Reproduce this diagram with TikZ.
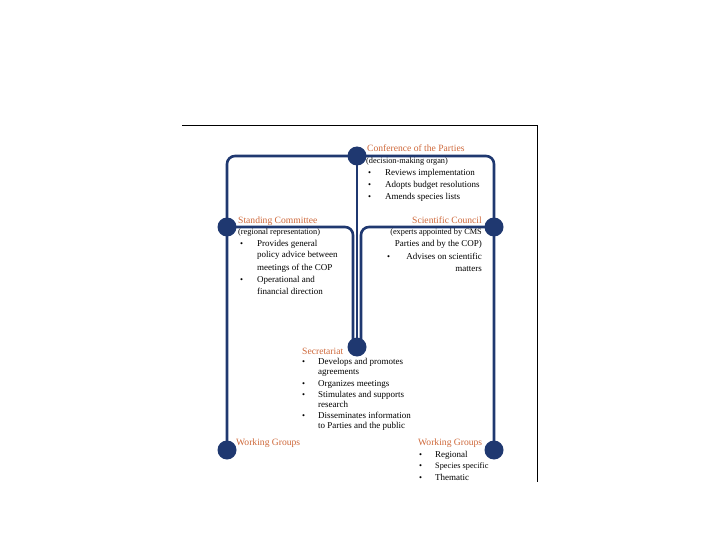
\documentclass[tikz,border=0pt]{standalone}
\usepackage{fontspec}
\setmainfont{Liberation Serif}
\usetikzlibrary{backgrounds}
\definecolor{navy}{RGB}{31,56,112}
\definecolor{orng}{RGB}{206,104,58}
\tikzset{
  hub/.style={circle,fill=navy,minimum size=19pt,inner sep=0pt},
  link/.style={draw=navy,line width=2.6pt,rounded corners=8pt},
  ttl/.style={text=orng,font=\fontsize{9.6}{11}\selectfont,inner sep=0pt},
  sml/.style={font=\fontsize{8.3}{9}\selectfont,inner sep=0pt},
  txt/.style={font=\fontsize{9}{10}\selectfont,inner sep=0pt},
  bul/.style={font=\fontsize{8.5}{10}\selectfont,inner sep=0pt,anchor=base west},
}
\begin{document}
\begin{tikzpicture}[x=1pt,y=-1pt]
\useasboundingbox (0,0) rectangle (720,540);
% black frame
\draw[black,line width=1pt] (182,126) -- (537,126) -- (537,482);
% hubs
\node[hub] (cop) at (357,156) {};
\node[hub] (stc) at (227,227) {};
\node[hub] (scc) at (494,227) {};
\node[hub] (sec) at (357,347) {};
\node[hub] (wgl) at (227,450) {};
\node[hub] (wgr) at (494,450) {};
\coordinate (secl) at (353,347);
\coordinate (secr) at (361,347);
\begin{scope}[on background layer]
\draw[link] (wgl.center) |- (cop.center);
\draw[link] (wgr.center) |- (cop.center);
\draw[link] (cop.center) -- (sec.center);
\draw[link] (stc.center) -| (secl);
\draw[link] (scc.center) -| (secr);
\end{scope}
% COP
\node[ttl,anchor=base west] (copt) at (367,152) {Conference of the Parties};
\node[sml,anchor=base west] (copd) at (366,164) {(decision-making organ)};
\foreach \y/\t in {176/Reviews implementation,188/Adopts budget resolutions,200/Amends species lists}{
  \node[bul] at (368,\y) {\textbullet};
  \node[txt,anchor=base west] at (385,\y) {\t};
}
% Standing Committee
\node[ttl,anchor=base west] (stct) at (238,223) {Standing Committee};
\node[sml,anchor=base west] (stcd) at (238,235) {(regional representation)};
\node[bul] at (240,246) {\textbullet};
\node[bul] at (240,282) {\textbullet};
\foreach \y/\t in {246/Provides general,258/policy advice between,270/meetings of the COP,282/Operational and,294/financial direction}{
  \node[txt,anchor=base west] at (257,\y) {\t};
}
% Scientific Council
\node[ttl,anchor=base east] (scct) at (482,223) {Scientific Council};
\node[sml,anchor=base east] (sccd) at (482,235) {(experts appointed by CMS};
\node[txt,anchor=base east] at (482,247) {Parties and by the COP)};
\node[bul] at (387,259) {\textbullet};
\node[txt,anchor=base east] at (482,259) {Advises on scientific};
\node[txt,anchor=base east] at (482,271) {matters};
% Secretariat
\node[ttl,anchor=base west] (sect) at (302,354) {Secretariat};
\node[bul] at (302,364) {\textbullet};
\node[bul] at (302,386) {\textbullet};
\node[bul] at (302,397) {\textbullet};
\node[bul] at (302,418) {\textbullet};
\foreach \y/\t in {364/Develops and promotes,374/agreements,386/Organizes meetings,397/Stimulates and supports,407/research,418/Disseminates information,428/to Parties and the public}{
  \node[txt,anchor=base west] at (318,\y) {\t};
}
% Working Groups
\node[ttl,anchor=base west] (wglt) at (236,445) {Working Groups};
\node[ttl,anchor=base west] (wgrt) at (418,445) {Working Groups};
\node[bul] at (419,457) {\textbullet};
\node[bul] at (419,468) {\textbullet};
\node[bul] at (419,480) {\textbullet};
\node[txt,anchor=base west] at (435,457) {Regional};
\node[sml,anchor=base west] at (435,468) {Species specific};
\node[txt,anchor=base west] at (435,480) {Thematic};
\end{tikzpicture}
\end{document}
